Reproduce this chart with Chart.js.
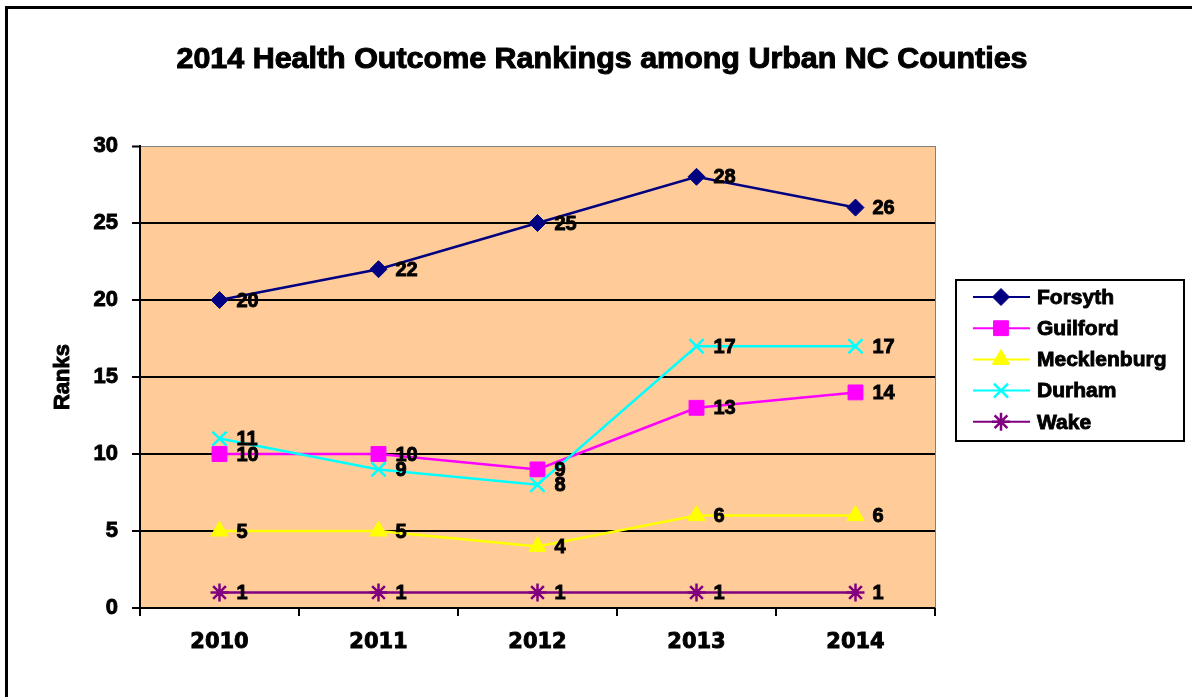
<!DOCTYPE html>
<html>
<head>
<meta charset="utf-8">
<title>2014 Health Outcome Rankings among Urban NC Counties</title>
<script src="https://cdn.jsdelivr.net/npm/chart.js"></script>
<style>
    body { margin: 0; background: #fff; }
    #wrap { width: 1192px; height: 697px; }
</style>
</head>
<body>
<div id="wrap"><canvas id="rankChart" width="1192" height="697"></canvas></div>
<script>
const years = ['2010', '2011', '2012', '2013', '2014'];
const forsyth = [20, 22, 25, 28, 26];
const guilford = [10, 10, 9, 13, 14];
const mecklenburg = [5, 5, 4, 6, 6];
const durham = [11, 9, 8, 17, 17];
const wake = [1, 1, 1, 1, 1];
const yTicks = [0, 5, 10, 15, 20, 25, 30];

const FONT = '"Liberation Sans", Arial, sans-serif';

// fill + thin stroke so the text looks as heavy as the original
function heavyText(ctx, text, x, y, w) {
    ctx.fillText(text, x, y);
    ctx.lineWidth = w || 0.9;
    ctx.strokeStyle = ctx.fillStyle;
    ctx.strokeText(text, x, y);
}

// background, plot fill and outer frame
const framePlugin = {
    id: 'frame',
    beforeDraw(chart) {
        const ctx = chart.ctx;
        const a = chart.chartArea;
        ctx.save();
        ctx.fillStyle = '#ffffff';
        ctx.fillRect(0, 0, chart.width, chart.height);
        ctx.fillStyle = '#FFCC99';
        ctx.fillRect(a.left, a.top, a.right - a.left, a.bottom - a.top);
        ctx.strokeStyle = '#000';
        ctx.lineWidth = 3;
        ctx.beginPath();
        ctx.moveTo(6.5, chart.height);
        ctx.lineTo(6.5, 7.5);
        ctx.lineTo(chart.width + 5, 7.5);
        ctx.stroke();
        ctx.restore();
    },
    beforeDatasetsDraw(chart) {
        const ctx = chart.ctx;
        const a = chart.chartArea;
        ctx.save();
        ctx.strokeStyle = '#808080';
        ctx.lineWidth = 1;
        ctx.beginPath();
        ctx.moveTo(a.right + 0.5, a.top);
        ctx.lineTo(a.right + 0.5, a.bottom);
        ctx.stroke();
        ctx.restore();
    },
    afterDraw(chart) {
        const ctx = chart.ctx;
        ctx.save();
        ctx.fillStyle = '#000';
        // title, slightly widened like the source
        ctx.font = 'bold 29px ' + FONT;
        ctx.textAlign = 'center';
        ctx.textBaseline = 'middle';
        ctx.save();
        ctx.translate(602, 60);
        ctx.scale(1.05, 1);
        heavyText(ctx, '2014 Health Outcome Rankings among Urban NC Counties', 0, 0, 1);
        ctx.restore();
        // y axis title
        ctx.font = 'bold 22px ' + FONT;
        ctx.translate(63, 377);
        ctx.rotate(-Math.PI / 2);
        heavyText(ctx, 'Ranks', 0, 0);
        ctx.restore();
    }
};

// value labels right of each point
const labelPlugin = {
    id: 'pointLabels',
    afterDatasetsDraw(chart) {
        const ctx = chart.ctx;
        ctx.save();
        ctx.font = 'bold 20px ' + FONT;
        ctx.fillStyle = '#000';
        ctx.textAlign = 'left';
        ctx.textBaseline = 'middle';
        chart.data.datasets.forEach((ds, i) => {
            const meta = chart.getDatasetMeta(i);
            meta.data.forEach((pt, j) => {
                heavyText(ctx, String(ds.data[j]), pt.x + 17, pt.y + 1);
            });
        });
        ctx.restore();
    }
};

// boxed legend on the right
const legendPlugin = {
    id: 'boxLegend',
    afterDraw(chart) {
        const ctx = chart.ctx;
        const box = { x: 956, y: 280, w: 228, h: 161 };
        ctx.save();
        ctx.fillStyle = '#fff';
        ctx.fillRect(box.x, box.y, box.w, box.h);
        ctx.strokeStyle = '#000';
        ctx.lineWidth = 2;
        ctx.strokeRect(box.x, box.y, box.w, box.h);
        ctx.font = 'bold 21px ' + FONT;
        ctx.textBaseline = 'middle';
        ctx.textAlign = 'left';
        chart.data.datasets.forEach((ds, i) => {
            const y = 297 + i * 31.2;
            ctx.strokeStyle = ds.borderColor;
            ctx.lineWidth = 2;
            ctx.beginPath();
            ctx.moveTo(973, y);
            ctx.lineTo(1030, y);
            ctx.stroke();
            ctx.fillStyle = ds.pointBackgroundColor;
            ctx.strokeStyle = ds.pointBorderColor;
            ctx.lineWidth = ds.pointBorderWidth;
            if (Chart.helpers && Chart.helpers.drawPoint) {
                Chart.helpers.drawPoint(ctx, {
                    pointStyle: ds.pointStyle,
                    radius: ds.pointRadius,
                    rotation: 0,
                    borderWidth: ds.pointBorderWidth
                }, 1001, y);
            }
            ctx.fillStyle = '#000';
            heavyText(ctx, ds.label, 1037, y + 1);
        });
        ctx.restore();
    }
};

function series(label, data, color, style, radius, bw, order) {
    return {
        label, data, order,
        borderColor: color,
        backgroundColor: color,
        borderWidth: 2.5,
        pointStyle: style,
        pointRadius: radius,
        pointHoverRadius: radius,
        pointBackgroundColor: color,
        pointBorderColor: color,
        pointBorderWidth: bw,
        tension: 0,
        fill: false
    };
}

const datasets = [
    series('Forsyth', forsyth, '#000080', 'rectRot', 8.5, 1, 5),
    series('Guilford', guilford, '#FF00FF', 'rect', 10.5, 1, 4),
    series('Mecklenburg', mecklenburg, '#FFFF00', 'triangle', 10, 1, 3),
    series('Durham', durham, '#00FFFF', 'crossRot', 10, 2.5, 2),
    series('Wake', wake, '#800080', 'star', 9, 2.5, 1)
];

new Chart(document.getElementById('rankChart').getContext('2d'), {
    type: 'line',
    data: { labels: years, datasets },
    options: {
        responsive: false,
        animation: false,
        events: [],
        layout: { padding: { left: 0, top: 146, right: 257, bottom: 0 } },
        plugins: {
            legend: { display: false },
            title: { display: false },
            tooltip: { enabled: false }
        },
        scales: {
            x: {
                offset: true,
                afterFit: s => { s.height = 89; },
                border: { display: true, color: '#000', width: 2 },
                grid: {
                    offset: true,
                    drawOnChartArea: false,
                    drawTicks: true,
                    tickLength: 8,
                    color: '#000',
                    lineWidth: 2
                },
                ticks: {
                    color: '#000',
                    padding: 14,
                    maxRotation: 0,
                    textStrokeColor: '#000',
                    textStrokeWidth: 0.9,
                    font: { family: '"DejaVu Sans", sans-serif', weight: 'bold', size: 21 }
                }
            },
            y: {
                min: 0,
                max: 30,
                afterFit: s => { s.width = 140; },
                afterBuildTicks: s => { s.ticks = yTicks.map(v => ({ value: v })); },
                border: { display: true, color: '#000', width: 2 },
                grid: {
                    color: c => (c.tick && c.tick.value === 30 ? '#808080' : '#000'),
                    lineWidth: c => (c.tick && c.tick.value === 30 ? 1 : 2),
                    tickColor: '#000',
                    tickWidth: 2,
                    tickLength: 8
                },
                ticks: {
                    color: '#000',
                    padding: 14,
                    textStrokeColor: '#000',
                    textStrokeWidth: 0.9,
                    font: { family: FONT, weight: 'bold', size: 22 }
                }
            }
        }
    },
    plugins: [framePlugin, labelPlugin, legendPlugin]
});
</script>
</body>
</html>
